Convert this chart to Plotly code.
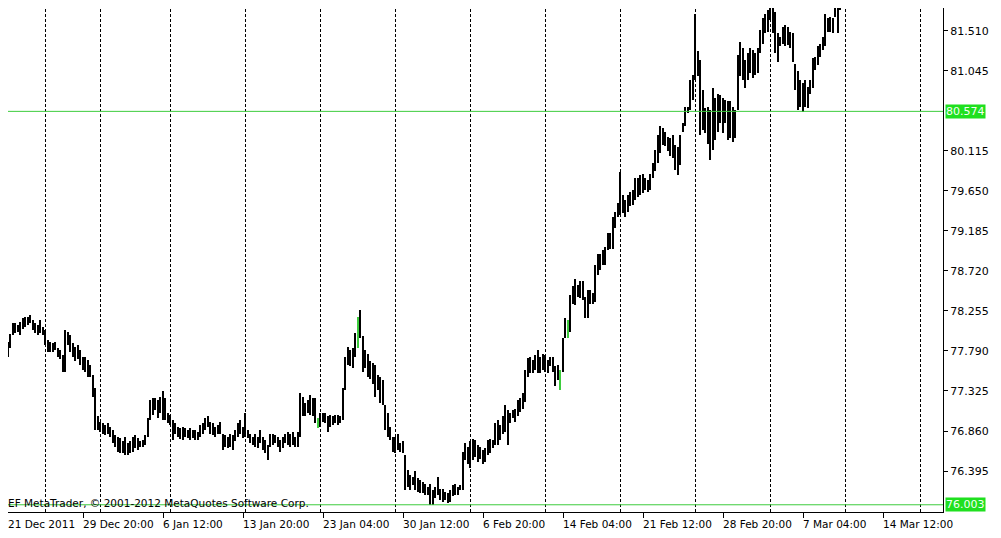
import plotly.graph_objects as go

# ---- data (H4 bars, index = bar number) ----
bar_index = list(range(1, 336))

highs = [
    77.82, 77.90, 77.99, 78.11, 78.11, 78.09, 78.13, 78.17, 78.19, 78.19,
    78.21, 78.15, 78.11, 78.09, 78.15, 78.07, 78.03, 77.92, 77.90, 77.88,
    77.90, 77.82, 77.80, 77.74, 78.03, 78.01, 77.98, 77.88, 77.84, 77.86,
    77.80, 77.72, 77.72, 77.69, 77.63, 77.51, 77.36, 77.03, 76.97, 76.95,
    76.93, 76.95, 76.91, 76.87, 76.81, 76.79, 76.78, 76.74, 76.79, 76.72,
    76.74, 76.79, 76.81, 76.78, 76.74, 76.76, 76.81, 77.01, 77.22, 77.24,
    77.24, 77.22, 77.26, 77.32, 77.24, 77.07, 77.05, 76.99, 76.95, 76.91,
    76.89, 76.91, 76.89, 76.87, 76.89, 76.87, 76.87, 76.85,
    76.93, 76.95, 77.01, 77.03, 76.97, 76.95, 76.91, 76.93, 76.97, 76.83,
    76.81, 76.79, 76.83, 76.81, 76.87, 76.95, 76.99, 76.91, 77.07, 76.87,
    76.83, 76.79, 76.83, 76.79, 76.87, 76.79, 76.76, 76.70, 76.83, 76.83,
    76.81, 76.79, 76.76, 76.79, 76.83, 76.85, 76.83, 76.85, 76.79, 76.85,
    77.30, 77.26, 77.18, 77.22, 77.28, 77.24, 77.24, 77.01, 77.07, 77.07,
    77.07, 77.03, 77.05, 77.03, 77.05, 77.05, 77.03, 77.36, 77.72, 77.84,
    77.80, 77.82, 78.00, 78.19, 78.27, 77.96, 77.80, 77.76, 77.67, 77.65,
    77.63, 77.51, 77.49, 77.45, 77.16, 77.07, 76.91, 76.79, 76.79, 76.83,
    76.72, 76.74, 76.58, 76.41, 76.35, 76.33, 76.39, 76.31, 76.29, 76.27,
    76.25, 76.21, 76.25, 76.17, 76.21, 76.33, 76.19, 76.19, 76.15, 76.14,
    76.17, 76.23, 76.25, 76.21, 76.23, 76.62, 76.72, 76.68, 76.74, 76.77,
    76.76, 76.70, 76.68, 76.64, 76.66, 76.76, 76.77, 76.76, 76.95, 76.99,
    76.93, 77.03, 77.16, 77.10, 77.07, 77.10, 77.12, 77.22, 77.24, 77.30, 77.57,
    77.71, 77.72, 77.68, 77.74, 77.80, 77.72, 77.76, 77.74, 77.68, 77.72,
    77.72, 77.61, 77.63, 77.57, 77.94, 78.17, 78.15, 78.44, 78.54, 78.63,
    78.56, 78.60, 78.60, 78.42, 78.50, 78.50, 78.46, 78.79, 78.92, 78.92,
    78.96, 79.00, 79.16, 79.16, 79.35, 79.41, 79.51, 79.87, 79.60, 79.54,
    79.60, 79.64, 79.66, 79.80, 79.80, 79.83, 79.85, 79.80, 79.78, 79.85,
    79.97, 80.12,
    80.30, 80.40, 80.38, 80.34, 80.28, 80.26, 80.30, 80.18, 80.16, 80.30,
    80.44, 80.63, 80.63, 80.94, 81.00, 81.71, 81.27, 81.17, 80.82, 80.61,
    80.63, 80.59, 80.84, 80.73, 80.78, 80.76, 80.73, 80.71, 80.69, 80.69,
    80.63, 80.59, 81.23, 81.38, 81.31, 81.17, 81.25, 81.31, 81.29, 81.25,
    81.31, 81.52, 81.66, 81.71, 81.75, 81.90, 81.88, 81.73, 81.48, 81.44,
    81.56, 81.58, 81.56, 81.50, 81.48, 81.13, 81.04, 80.94, 80.90, 80.94,
    80.86, 80.94, 81.19, 81.21, 81.33, 81.36, 81.44, 81.71, 81.66, 81.67,
    81.66, 81.83, 81.90, 81.90,
]

lows = [
    77.67, 77.72, 77.82, 77.98, 78.00, 78.01, 77.98, 78.05, 78.07, 78.09,
    78.11, 78.03, 78.00, 77.98, 78.00, 77.98, 77.86, 77.78, 77.78, 77.78,
    77.80, 77.72, 77.70, 77.55, 77.55, 77.86, 77.78, 77.72, 77.67, 77.70,
    77.63, 77.57, 77.55, 77.49, 77.49, 77.26, 76.87, 76.87, 76.85, 76.83,
    76.81, 76.83, 76.79, 76.72, 76.68, 76.62, 76.60, 76.60, 76.58, 76.58,
    76.60, 76.62, 76.66, 76.64, 76.68, 76.68, 76.70, 76.79, 76.99, 77.05,
    77.10, 77.01, 77.07, 76.99, 76.99, 76.95, 76.93, 76.76, 76.83, 76.79,
    76.77, 76.76, 76.79, 76.78, 76.76, 76.78, 76.76, 76.76,
    76.79, 76.83, 76.87, 76.91, 76.83, 76.81, 76.79, 76.83, 76.83, 76.64,
    76.68, 76.66, 76.68, 76.64, 76.74, 76.79, 76.83, 76.78, 76.79, 76.78,
    76.72, 76.70, 76.68, 76.66, 76.72, 76.64, 76.60, 76.52, 76.68, 76.70,
    76.72, 76.68, 76.62, 76.66, 76.72, 76.70, 76.68, 76.70, 76.68, 76.68,
    76.79, 77.03, 77.03, 77.07, 77.05, 77.03, 76.95, 76.89, 76.91, 76.97,
    76.95, 76.85, 76.91, 76.93, 76.95, 76.93, 76.95, 76.99, 77.34, 77.63,
    77.61, 77.59, 77.72, 77.82, 77.94, 77.55, 77.59, 77.49, 77.47, 77.41,
    77.26, 77.34, 77.18, 77.16, 76.87, 76.79, 76.76, 76.62, 76.60, 76.64,
    76.62, 76.60, 76.17, 76.21, 76.17, 76.23, 76.17, 76.15, 76.14, 76.14,
    76.12, 76.12, 76.00, 76.00, 76.08, 76.12, 76.06, 76.04, 76.06, 76.02,
    76.04, 76.10, 76.12, 76.12, 76.17, 76.17, 76.52, 76.48, 76.43, 76.52,
    76.56, 76.50, 76.54, 76.48, 76.50, 76.58, 76.60, 76.66, 76.70, 76.70,
    76.76, 76.83, 76.85, 76.70, 76.95, 77.01, 76.97, 77.03, 77.08, 77.12, 77.20,
    77.49, 77.53, 77.53, 77.57, 77.53, 77.53, 77.57, 77.55, 77.53, 77.61,
    77.55, 77.38, 77.45, 77.34, 77.55, 77.94, 77.94, 78.01, 78.34, 78.32,
    78.42, 78.40, 78.38, 78.17, 78.17, 78.34, 78.34, 78.36, 78.67, 78.73,
    78.79, 78.79, 78.96, 78.98, 78.98, 79.22, 79.35, 79.37, 79.39, 79.35,
    79.41, 79.47, 79.49, 79.54, 79.58, 79.60, 79.62, 79.66, 79.64, 79.66,
    79.80, 79.88,
    79.97, 80.09, 80.18, 80.17, 80.11, 80.06, 80.03, 79.89, 79.84, 79.95,
    80.34, 80.40, 80.55, 80.59, 80.71, 80.94, 80.98, 80.30, 80.36, 80.32,
    80.20, 80.01, 80.13, 80.24, 80.34, 80.44, 80.32, 80.44, 80.24, 80.26,
    80.22, 80.26, 80.59, 80.98, 80.94, 80.84, 80.94, 81.02, 80.96, 81.00,
    81.02, 81.25, 81.36, 81.48, 81.50, 81.64, 81.48, 81.25, 81.15, 81.33,
    81.36, 81.33, 81.35, 81.31, 81.15, 80.82, 80.59, 80.63, 80.57, 80.63,
    80.61, 80.78, 80.84, 81.06, 81.11, 81.21, 81.29, 81.33, 81.50, 81.50,
    81.48, 81.67, 81.48, 81.75,
]

green_bars = [126, 142, 223, 226]
week_starts = [17, 39, 67, 97, 127, 157, 187, 217, 247, 277, 307, 337, 367]

tick_index = [0, 32, 64, 96, 128, 160, 192, 224, 256, 288, 320, 352]
tick_labels = ["21 Dec 2011", "29 Dec 20:00", "6 Jan 12:00", "13 Jan 20:00",
               "23 Jan 04:00", "30 Jan 12:00", "6 Feb 20:00", "14 Feb 04:00",
               "21 Feb 12:00", "28 Feb 20:00", "7 Mar 04:00", "14 Mar 12:00"]

price_ticks = [76.395, 76.860, 77.325, 77.790, 78.255, 78.720, 79.185,
               79.650, 80.115, 81.045, 81.510]
bid_level = 80.574
low_level = 76.003
# visible window (the page body adds an 8px offset, so the view starts a bit inside)
price_range = [75.919, 81.775]
x_range = [2, 376]

copyright_text = "EF MetaTrader, \u00a9 2001-2012 MetaQuotes Software Corp."

FONT = "DejaVu Sans"
GREEN_LINE = "#3dcc3d"
GREEN_BOX = "#1fe01f"

colors = [GREEN_LINE if i in green_bars else "#000000" for i in bar_index]

fig = go.Figure()
fig.add_trace(go.Bar(
    x=bar_index,
    y=[h - l for h, l in zip(highs, lows)],
    base=lows,
    width=0.42,
    marker=dict(color=colors, line=dict(width=0)),
    hoverinfo="skip",
    showlegend=False,
))

shapes = []
for w in week_starts:
    shapes.append(dict(type="line", xref="x", yref="paper", x0=w, x1=w, y0=0, y1=1,
                       line=dict(color="#000000", width=1, dash="3px,2px"), layer="below"))
for lvl in (bid_level, low_level):
    shapes.append(dict(type="line", xref="paper", yref="y", x0=0, x1=1, y0=lvl, y1=lvl,
                       line=dict(color=GREEN_LINE, width=1), layer="above"))

annotations = []
for idx, lab in zip(tick_index, tick_labels):
    if idx < x_range[0]:
        annotations.append(dict(x=0, xref="paper", y=0, yref="paper", yanchor="top", xanchor="left",
                                yshift=-4, xshift=-2, text=lab, showarrow=False,
                                font=dict(family=FONT, size=10.5, color="#000000")))
    else:
        annotations.append(dict(x=idx, xref="x", y=0, yref="paper", yanchor="top", xanchor="left",
                                yshift=-4, xshift=-2, text=lab, showarrow=False,
                                font=dict(family=FONT, size=10.5, color="#000000")))
for lvl in (bid_level, low_level):
    annotations.append(dict(x=1, xref="paper", y=lvl, yref="y", xanchor="left", yanchor="middle",
                            xshift=2, text=f"{lvl:.3f}", showarrow=False, bgcolor=GREEN_BOX,
                            borderpad=0, font=dict(family=FONT, size=11, color="#f4fff4")))
annotations.append(dict(x=0, xref="paper", y=0.0, yref="paper", xanchor="left", yanchor="bottom",
                        xshift=-2, yshift=1, text=copyright_text, showarrow=False,
                        font=dict(family=FONT, size=10.5, color="#000000")))

fig.update_layout(
    width=993, height=530,
    margin=dict(l=0, r=58, t=0, b=26, pad=0),
    paper_bgcolor="#ffffff", plot_bgcolor="#ffffff",
    bargap=0,
    shapes=shapes,
    annotations=annotations,
    xaxis=dict(range=x_range, showgrid=False, zeroline=False, showline=True,
               linecolor="#000000", linewidth=1, ticks="outside", ticklen=5,
               tickcolor="#000000", tickvals=tick_index, showticklabels=False,
               fixedrange=True),
    yaxis=dict(range=price_range, side="right", showgrid=False, zeroline=False,
               showline=True, linecolor="#000000", linewidth=1,
               ticks="outside", ticklen=4, tickcolor="#000000",
               tickvals=price_ticks, ticktext=[f"{v:.3f}" for v in price_ticks],
               tickfont=dict(family=FONT, size=11, color="#000000"), fixedrange=True),
)

fig.write_html("out.html")
